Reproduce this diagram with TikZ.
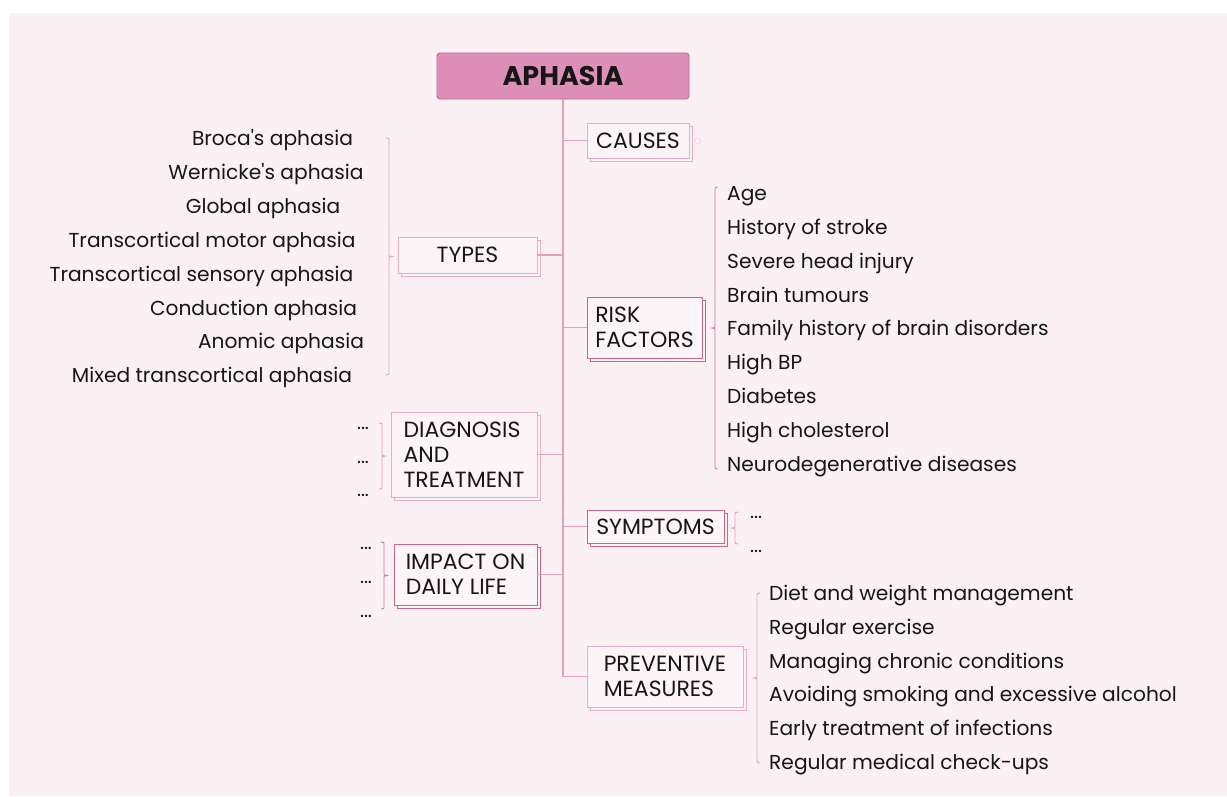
\documentclass[tikz,border=0pt]{standalone}
\usepackage{fontspec}
\newfontfamily\mmfont{Poppins}
\usetikzlibrary{shadows}

\definecolor{panel}{HTML}{FBF0F3}
\definecolor{boxfill}{HTML}{FDF4F7}
\definecolor{lineA}{HTML}{E9AEC4}
\definecolor{lineB}{HTML}{C9648C}
\definecolor{conn}{HTML}{E3A0BA}
\definecolor{rootfill}{HTML}{DE8FB8}
\definecolor{rootline}{HTML}{BE6A95}
\definecolor{ink}{HTML}{161616}

% curly brace: colour, spine x, top y, bottom y, tip direction (+1 right, -1 left)
\newcommand{\mmbrace}[5]{%
  \draw[#1] ({#2-#5*3},#3) .. controls (#2,#3) .. (#2,{#3+4})
    -- (#2,{(#3+#4)/2-4}) .. controls (#2,{(#3+#4)/2}) .. ({#2+#5*3},{(#3+#4)/2})
    .. controls (#2,{(#3+#4)/2}) .. (#2,{(#3+#4)/2+4})
    -- (#2,{#4-4}) .. controls (#2,#4) .. ({#2-#5*3},#4);}

\begin{document}
\begin{tikzpicture}[x=1pt,y=-1pt,
  topic/.style={draw=lineA, fill=boxfill, line width=0.9pt, inner sep=0pt,
    align=left, text=ink, font=\mmfont\fontsize{22}{25}\selectfont,
    copy shadow={shadow xshift=3pt, shadow yshift=-3pt}},
  strong/.style={topic, draw=lineB},
  leaf/.style={inner sep=0pt, text=ink, font=\mmfont\fontsize{20.2}{24}\selectfont,
    text height=14.5pt, text depth=0pt},
  dots/.style={inner sep=0pt, text=ink, font=\mmfont\fontsize{19}{19}\selectfont,
    text height=3pt, text depth=0pt},
  link/.style={draw=conn, line width=1.1pt},
  bracelight/.style={draw=conn, line width=0.9pt},
  bracedark/.style={draw=lineB!85!white, line width=0.9pt}]

\useasboundingbox (0,0) rectangle (1227,796);
\fill[panel] (9,13) rectangle (1227,796);

% central topic
\node[draw=rootline, fill=rootfill, line width=0.9pt, rounded corners=3pt,
  minimum width=252pt, minimum height=46pt, inner sep=0pt, text=ink,
  font=\mmfont\bfseries\fontsize{27}{30}\selectfont] (root) at (563,76) {APHASIA};

% main branches
\node[topic, minimum width=102pt, minimum height=35pt] (causes) at (638,140.5) {CAUSES};
\node[topic, minimum width=139pt, minimum height=36pt] (types) at (467.5,255) {TYPES};
\node[strong, minimum width=115pt, minimum height=61pt] (risk) at (644.5,327.5) {RISK\\FACTORS};
\node[topic, minimum width=146pt, minimum height=85pt] (diag) at (464,454.5) {DIAGNOSIS\\AND\\TREATMENT};
\node[strong, minimum width=137pt, minimum height=33pt] (symp) at (655.5,526.5) {SYMPTOMS};
\node[strong, minimum width=143pt, minimum height=61pt] (impact) at (465.5,574.5) {IMPACT ON\\DAILY LIFE};
\node[topic, minimum width=156pt, minimum height=61pt] (prev) at (665,676.5) {PREVENTIVE\\MEASURES};

% collapsed marker
\node[draw=lineA!70!white, circle, minimum size=6pt, inner sep=0pt] (causesdot) at (698,141) {};

% trunk and branch connectors
\coordinate (trunkend) at (root.south |- prev.west);
\draw[link] (root.south) -- (trunkend);
\draw[link] (causes.west) -- (causes.west -| root.south);
\draw[link] (types.east) -- (types.east -| root.south);
\draw[link] (risk.west) -- (risk.west -| root.south);
\draw[link] (diag.east) -- (diag.east -| root.south);
\draw[link] (symp.west) -- (symp.west -| root.south);
\draw[link] (impact.east) -- (impact.east -| root.south);
\draw[link] (prev.west) -- (trunkend);

% types
\node[leaf] (t1) at (272.5,138) {Broca's aphasia};
\node[leaf] (t2) at (266,172) {Wernicke's aphasia};
\node[leaf] (t3) at (263,206) {Global aphasia};
\node[leaf] (t4) at (212,240) {Transcortical motor aphasia};
\node[leaf] (t5) at (201.5,274) {Transcortical sensory aphasia};
\node[leaf] (t6) at (253.5,308) {Conduction aphasia};
\node[leaf] (t7) at (281,341) {Anomic aphasia};
\node[leaf] (t8) at (212,375) {Mixed transcortical aphasia};
\mmbrace{bracelight}{389}{138}{375}{1}

% risk factors
\node[leaf, anchor=west] (r1) at (727,193) {Age};
\node[leaf, anchor=west] (r2) at (727,227) {History of stroke};
\node[leaf, anchor=west] (r3) at (727,261) {Severe head injury};
\node[leaf, anchor=west] (r4) at (727,295) {Brain tumours};
\node[leaf, anchor=west] (r5) at (727,328) {Family history of brain disorders};
\node[leaf, anchor=west] (r6) at (727,362) {High BP};
\node[leaf, anchor=west] (r7) at (727,396) {Diabetes};
\node[leaf, anchor=west] (r8) at (727,430) {High cholesterol};
\node[leaf, anchor=west] (r9) at (727,464) {Neurodegenerative diseases};
\mmbrace{bracedark}{715}{187}{469}{-1}

% diagnosis and treatment
\node[dots] (d1) at (363,428) {...};
\node[dots] (d2) at (363,462) {...};
\node[dots] (d3) at (363,495) {...};
\mmbrace{bracelight}{382}{423}{489}{1}

% symptoms
\node[dots] (s1) at (756,517) {...};
\node[dots] (s2) at (756,551) {...};
\mmbrace{bracelight}{735}{512}{544}{-1}

% impact on daily life
\node[dots] (i1) at (366,548) {...};
\node[dots] (i2) at (366,582) {...};
\node[dots] (i3) at (366,616) {...};
\mmbrace{bracedark}{384}{542}{609}{1}

% preventive measures
\node[leaf, anchor=west] (p1) at (769,593) {Diet and weight management};
\node[leaf, anchor=west] (p2) at (769,627) {Regular exercise};
\node[leaf, anchor=west] (p3) at (769,661) {Managing chronic conditions};
\node[leaf, anchor=west] (p4) at (769,694) {Avoiding smoking and excessive alcohol};
\node[leaf, anchor=west] (p5) at (769,728) {Early treatment of infections};
\node[leaf, anchor=west] (p6) at (769,762) {Regular medical check-ups};
\mmbrace{bracelight}{757}{593}{763}{-1}

\end{tikzpicture}
\end{document}
